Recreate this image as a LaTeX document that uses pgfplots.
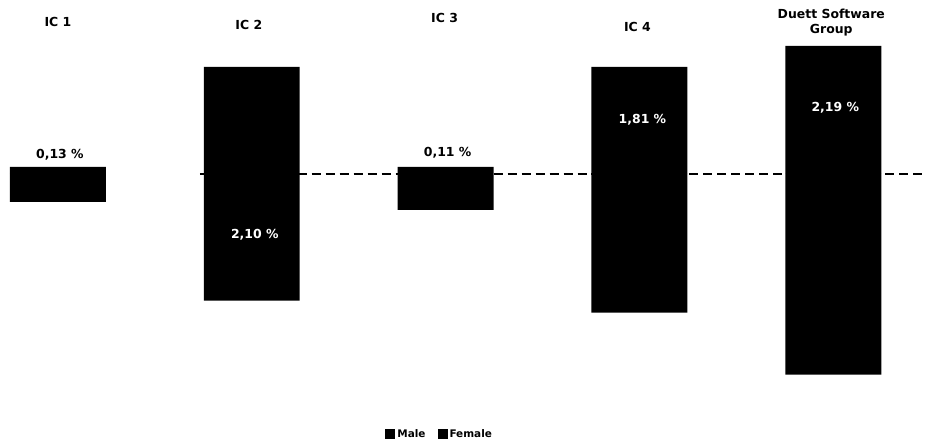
\documentclass[border=0pt]{standalone}
\usepackage{fontspec}
\setmainfont{DejaVu Sans}
\usepackage{pgfplots}
\pgfplotsset{compat=1.18}

\begin{document}
\begin{tikzpicture}
\begin{axis}[
    scale only axis,
    width=927bp, height=445bp,
    xmin=0, xmax=927,
    ymin=-271, ymax=174,
    hide axis,
    clip=false,
    legend columns=2,
    legend style={at={(0.4747,0.0225)}, anchor=center, draw=none, fill=none,
                  font=\fontsize{10.5}{12}\selectfont\bfseries,
                  /tikz/every even column/.append style={column sep=10bp}},
  ]
% invisible frame, keeps the page at the picture size
\path (axis cs:0,-271) rectangle (axis cs:927,174);

% dashed zero line
\addplot[black, dashed, line width=1.6bp, dash pattern=on 9bp off 5bp, forget plot]
  coordinates {(200,0) (927,0)};

% Male (above the line)
\addplot[ybar, bar width=96, bar shift=0, fill=black, draw=none,
         legend image code/.code={\fill[black] (0bp,-4bp) rectangle (10bp,6bp);}]
  coordinates {(58,7) (252,107) (446,7) (640,107) (834,128)};
\addlegendentry{Male}
% Female (below the line)
\addplot[ybar, bar width=96, bar shift=0, fill=black, draw=none,
         legend image code/.code={\fill[black] (0bp,-4bp) rectangle (10bp,6bp);}]
  coordinates {(58,-28) (252,-127) (446,-36) (640,-139) (834,-201)};
\addlegendentry{Female}

% category labels
\begin{scope}[every node/.style={font=\fontsize{12.5}{15}\selectfont\bfseries, align=center}]
\node at (axis cs:58,152) {IC 1};
\node at (axis cs:249,149) {IC 2};
\node at (axis cs:445,156) {IC 3};
\node at (axis cs:638,147) {IC 4};
\node at (axis cs:832,151) {Duett Software\\Group};
% value labels
\node at (axis cs:60,19) {0,13 \%};
\node at (axis cs:448,21) {0,11 \%};
\node[text=white] at (axis cs:255,-61) {2,10 \%};
\node[text=white] at (axis cs:643,54) {1,81 \%};
\node[text=white] at (axis cs:836,66) {2,19 \%};
\end{scope}
\end{axis}
\end{tikzpicture}
\end{document}
